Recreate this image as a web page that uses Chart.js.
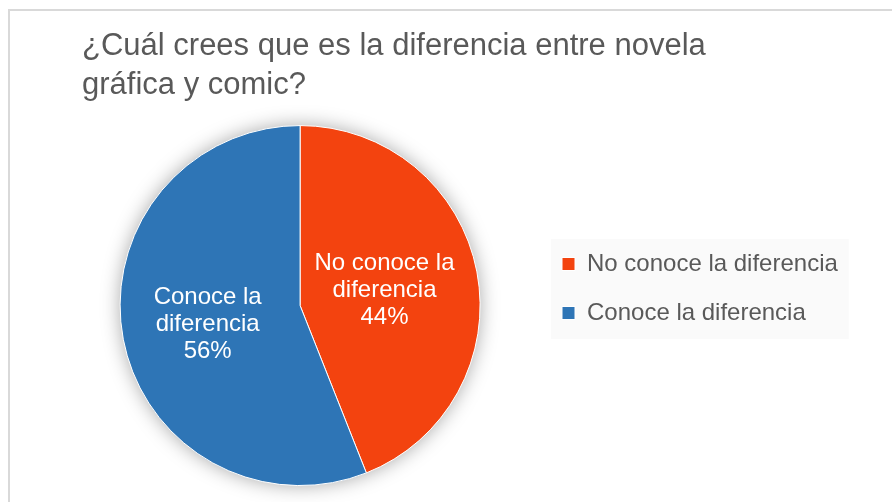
<!DOCTYPE html>
<html><head><meta charset="utf-8">
<script src="https://cdn.jsdelivr.net/npm/chart.js@4.4.1/dist/chart.umd.min.js"></script>
<style>html,body{margin:0;padding:0;background:#fff;overflow:hidden}canvas{display:block}</style>
</head><body>
<canvas id="c" width="892" height="502"></canvas>
<script>
const titleLines = ['¿Cuál crees que es la diferencia entre novela', 'gráfica y comic?'];
const categories = ['No conoce la diferencia', 'Conoce la diferencia'];
const values = [44, 56];
const sliceColors = ['#F3430F', '#2E75B6'];

const FONT = "'Liberation Sans', Arial, Helvetica, sans-serif";
const TEXT_GREY = '#595959';
const LEGEND_ITEM_X = 562;
const LEGEND_MID_Y = 288.5;

function wrapText(ctx, text, maxW) {
  const words = text.split(' ');
  const lines = [];
  let cur = '';
  for (const w of words) {
    const t = cur ? cur + ' ' + w : w;
    if (cur && ctx.measureText(t).width > maxW) { lines.push(cur); cur = w; }
    else cur = t;
  }
  if (cur) lines.push(cur);
  return lines;
}

const frameAndLegendBg = {
  id: 'frameAndLegendBg',
  afterLayout(chart) {
    const lg = chart.legend;
    const p = lg.options.labels.padding;
    const dx = LEGEND_ITEM_X - (lg.left + p);
    lg.left += dx; lg.right += dx;
    const dy = LEGEND_MID_Y - (lg.top + lg.bottom) / 2;
    lg.top += dy; lg.bottom += dy;
  },
  beforeDraw(chart) {
    const ctx = chart.ctx;
    ctx.save();
    ctx.strokeStyle = '#d9d9d9';
    ctx.lineWidth = 2;
    ctx.strokeRect(9, 10, 1000, 1000);
    const hb = chart.legend.legendHitBoxes;
    if (hb && hb.length) {
      const left = hb[0].left - 11;
      let right = 0;
      hb.forEach(h => { right = Math.max(right, h.left + h.width); });
      right += 11;
      const top = hb[0].top + hb[0].height / 2 - 25;
      const last = hb[hb.length - 1];
      const bottom = last.top + last.height / 2 + 26;
      ctx.fillStyle = '#fafafa';
      ctx.fillRect(left, top, right - left, bottom - top);
    }
    ctx.restore();
  },
  beforeDatasetsDraw(chart) {
    const arc = chart.getDatasetMeta(0).data[0];
    if (!arc) return;
    const ctx = chart.ctx;
    ctx.save();
    ctx.shadowColor = 'rgba(0,0,0,0.38)';
    ctx.shadowBlur = 20;
    ctx.fillStyle = '#ffffff';
    ctx.beginPath();
    ctx.arc(arc.x, arc.y, arc.outerRadius - 1, 0, Math.PI * 2);
    ctx.fill();
    ctx.restore();
  }
};

const dataLabels = {
  id: 'dataLabels',
  afterDatasetsDraw(chart) {
    const ctx = chart.ctx;
    const meta = chart.getDatasetMeta(0);
    const total = values.reduce((a, b) => a + b, 0);
    ctx.save();
    ctx.font = '24px ' + FONT;
    ctx.fillStyle = '#ffffff';
    ctx.textAlign = 'center';
    ctx.textBaseline = 'middle';
    meta.data.forEach((arc, i) => {
      const pos = arc.tooltipPosition();
      const lines = wrapText(ctx, chart.data.labels[i], 150);
      lines.push(Math.round(values[i] / total * 100) + '%');
      const lh = 27;
      const y0 = pos.y + 2 - (lines.length - 1) * lh / 2;
      lines.forEach((l, j) => ctx.fillText(l, pos.x - 4, y0 + j * lh));
    });
    ctx.restore();
  }
};

new Chart(document.getElementById('c'), {
  type: 'pie',
  data: {
    labels: categories,
    datasets: [{
      data: values,
      backgroundColor: sliceColors,
      borderColor: '#ffffff',
      borderWidth: 1,
      radius: 180
    }]
  },
  options: {
    responsive: false,
    animation: false,
    devicePixelRatio: 1,
    layout: { padding: { left: 82, right: 63, top: 0, bottom: 7 } },
    plugins: {
      title: {
        display: true,
        text: titleLines,
        align: 'start',
        color: TEXT_GREY,
        font: { family: FONT, size: 31, weight: 'normal', lineHeight: 1.26 },
        padding: { top: 27, bottom: 11 }
      },
      legend: {
        position: 'right',
        align: 'center',
        labels: {
          color: TEXT_GREY,
          font: { family: FONT, size: 24 },
          boxWidth: 13,
          boxHeight: 13,
          padding: 25
        }
      },
      tooltip: { enabled: false }
    }
  },
  plugins: [frameAndLegendBg, dataLabels]
});
</script>
</body></html>
